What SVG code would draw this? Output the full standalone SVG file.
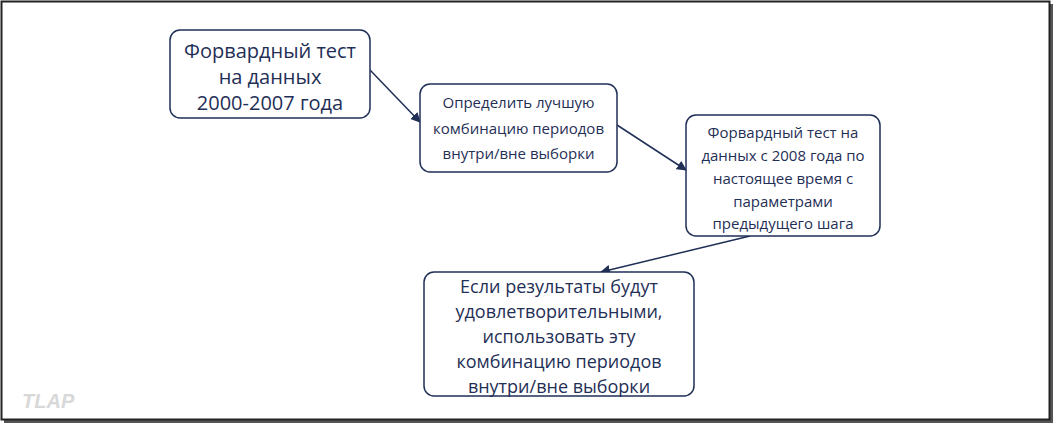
<svg xmlns="http://www.w3.org/2000/svg" width="1056" height="426" viewBox="0 0 1056 426">
<style>
.n{fill:#fff;stroke:#1f2f56;stroke-width:1.5}
.t{font-family:"Open Sans","Liberation Sans",sans-serif;fill:#1f2f56;text-anchor:middle}
.c{stroke:#1f2f56;stroke-width:1.5;fill:none;marker-end:url(#a)}
</style>
<defs><marker id="a" viewBox="0 0 10 10" refX="9" refY="5" markerWidth="10" markerHeight="10" markerUnits="userSpaceOnUse" orient="auto"><path d="M0,0L10,5L0,10z" fill="#1f2f56"/></marker></defs>
<rect x="0" y="0" width="1056" height="426" fill="#fff"/>
<rect x="4" y="4" width="1049" height="419" fill="#555"/>
<rect x="1.5" y="1.5" width="1048" height="418" fill="#fff" stroke="#222" stroke-width="2"/>
<text x="22" y="408" font-family="'Liberation Sans',sans-serif" font-weight="bold" font-style="italic" font-size="20" fill="#d8d8d8">TLAP</text>
<g id="connectors">
<line class="c" x1="370" y1="70" x2="420" y2="122"/>
<line class="c" x1="617" y1="125" x2="686" y2="170"/>
<line class="c" x1="750" y1="236" x2="601" y2="272"/>
</g>
<g id="n1"><rect class="n" x="170" y="30" width="200" height="88" rx="10"/>
<text class="t" font-size="20"><tspan x="270" y="58">Форвардный тест</tspan><tspan x="270" y="84">на данных</tspan><tspan x="270" y="110">2000-2007 года</tspan></text></g>
<g id="n2"><rect class="n" x="420" y="84" width="197" height="88" rx="10"/>
<text class="t" font-size="15"><tspan x="518.5" y="108">Определить лучшую</tspan><tspan x="518.5" y="134">комбинацию периодов</tspan><tspan x="518.5" y="159">внутри/вне выборки</tspan></text></g>
<g id="n3"><rect class="n" x="686" y="115" width="194" height="121" rx="10"/>
<text class="t" font-size="15"><tspan x="783" y="138">Форвардный тест на</tspan><tspan x="783" y="161">данных с 2008 года по</tspan><tspan x="783" y="184">настоящее время с</tspan><tspan x="783" y="207">параметрами</tspan><tspan x="783" y="229">предыдущего шага</tspan></text></g>
<g id="n4"><rect class="n" x="424" y="272" width="270" height="124" rx="10"/>
<text class="t" font-size="18"><tspan x="559" y="293">Если результаты будут</tspan><tspan x="559" y="318">удовлетворительными,</tspan><tspan x="559" y="343">использовать эту</tspan><tspan x="559" y="368">комбинацию периодов</tspan><tspan x="559" y="393">внутри/вне выборки</tspan></text></g>
</svg>
